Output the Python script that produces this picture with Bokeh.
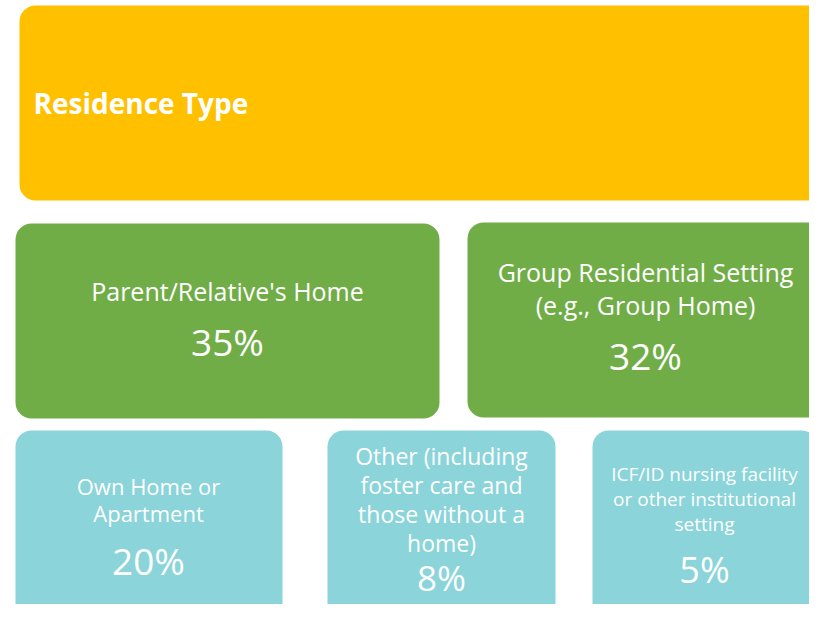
from bokeh.plotting import figure
from bokeh.models import Range1d, ColumnDataSource
from bokeh.core.properties import value
from bokeh.embed import file_html
from bokeh.resources import INLINE

# ---- data ----
title = "Residence Type"
categories = [
    "Parent/Relative's Home",
    "Group Residential Setting (e.g., Group Home)",
    "Own Home or Apartment",
    "Other (including foster care and those without a home)",
    "ICF/ID nursing facility or other institutional setting",
]
label_lines = [
    ["Parent/Relative's Home"],
    ["Group Residential Setting", "(e.g., Group Home)"],
    ["Own Home or", "Apartment"],
    ["Other (including", "foster care and", "those without a", "home)"],
    ["ICF/ID nursing facility", "or other institutional", "setting"],
]
values = [35, 32, 20, 8, 5]
tiers = ["green", "green", "cyan", "cyan", "cyan"]

# ---- layout / style (pixel coordinates of the infographic) ----
YELLOW, GREEN, CYAN = "#FFC000", "#70AD47", "#8AD4DA"
tier_color = {"green": GREEN, "cyan": CYAN}
FONT = "Open Sans"
# box extents: (left, right, top, bottom)
title_box = (19, 826, 5, 200)
boxes = [
    (15, 439, 223, 418),
    (467, 823, 222, 417),
    (15, 282, 430, 640),
    (327, 555, 430, 640),
    (592, 817, 430, 640),
]
# text anchor: (x centre, first line y, line spacing, label size, pct y, pct size)
text_layout = [
    (227, 290, 0, 25, 341, 37),
    (645, 271, 33, 25, 355, 37),
    (148, 485, 27, 22, 560, 37),
    (441, 455, 29, 23, 577, 35),
    (704, 473, 25, 19, 569, 36),
]

W, H = 809, 604
p = figure(width=W, height=H, output_backend="svg", toolbar_location=None,
           x_range=Range1d(0, W), y_range=Range1d(H, 0),
           min_border=0, outline_line_color=None)
p.axis.visible = False
p.grid.visible = False
p.background_fill_color = "white"

# title box
p.quad(left=[title_box[0]], right=[title_box[1]], top=[title_box[2]], bottom=[title_box[3]],
       fill_color=YELLOW, line_color=None, border_radius=16)
p.text(x=[33], y=[(title_box[2] + title_box[3]) / 2], text=[title],
       text_font=value(FONT), text_font_style="bold", text_font_size="28px",
       text_color="white", text_align="left", text_baseline="middle")

src = ColumnDataSource(dict(
    left=[b[0] for b in boxes], right=[b[1] for b in boxes],
    top=[b[2] for b in boxes], bottom=[b[3] for b in boxes],
    color=[tier_color[t] for t in tiers],
))
p.quad(left="left", right="right", top="top", bottom="bottom", source=src,
       fill_color="color", line_color=None, border_radius=16)

for lines, v, (cx, y0, dy, ls, py, ps) in zip(label_lines, values, text_layout):
    p.text(x=[cx] * len(lines), y=[y0 + i * dy for i in range(len(lines))], text=lines,
           text_font=value(FONT), text_font_size=f"{ls}px", text_color="white",
           text_align="center", text_baseline="middle")
    p.text(x=[cx], y=[py], text=[f"{v}%"],
           text_font=value(FONT), text_font_size=f"{ps}px", text_color="white",
           text_align="center", text_baseline="middle")

open("out.html", "w").write(file_html(p, INLINE))
